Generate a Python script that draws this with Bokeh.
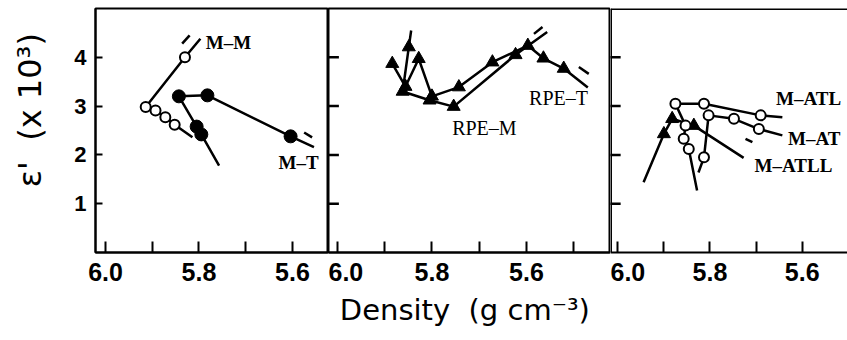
from bokeh.plotting import figure
from bokeh.layouts import row
from bokeh.models import Range1d, FixedTicker, Label, Span, PrintfTickFormatter
from bokeh.embed import file_html
from bokeh.resources import INLINE

# ---------------- data (density in g cm^-3, epsilon' x 10^3) ----------------
X_TICKS = [6.0, 5.8, 5.6]
X_MINOR = [5.9, 5.7, 5.5]
Y_TICKS = [1, 2, 3, 4]

# Panel 1: M-M (open circles), M-T (filled circles)
MM_LINE_X = [5.814, 5.852, 5.872, 5.893, 5.914, 5.830, 5.797]
MM_LINE_Y = [2.36, 2.62, 2.77, 2.91, 2.98, 4.00, 4.38]
MM_PTS_X = [5.852, 5.872, 5.893, 5.914, 5.830]
MM_PTS_Y = [2.62, 2.77, 2.91, 2.98, 4.00]

MT_LINE1_X = [5.843, 5.782, 5.604, 5.554]
MT_LINE1_Y = [3.20, 3.22, 2.38, 2.16]
MT_LINE2_X = [5.843, 5.805, 5.795, 5.757]
MT_LINE2_Y = [3.20, 2.58, 2.42, 1.78]
MT_PTS_X = [5.843, 5.782, 5.604, 5.805, 5.795]
MT_PTS_Y = [3.20, 3.22, 2.38, 2.58, 2.42]

# Panel 2: RPE-M, RPE-T (filled triangles)
RPEM_LINE_X = [5.844, 5.849, 5.862, 5.805, 5.754, 5.623, 5.556]
RPEM_LINE_Y = [4.55, 4.21, 3.30, 3.12, 2.99, 4.05, 4.52]
RPEM_PTS_X = [5.849, 5.862, 5.805, 5.754, 5.623]
RPEM_PTS_Y = [4.21, 3.30, 3.12, 2.99, 4.05]

RPET_LINE_X = [5.884, 5.856, 5.828, 5.800, 5.743, 5.672, 5.597, 5.564, 5.521, 5.470]
RPET_LINE_Y = [3.87, 3.40, 3.97, 3.20, 3.39, 3.90, 4.24, 3.98, 3.77, 3.38]
RPET_PTS_X = [5.884, 5.856, 5.828, 5.800, 5.743, 5.672, 5.597, 5.564, 5.521]
RPET_PTS_Y = [3.87, 3.40, 3.97, 3.20, 3.39, 3.90, 4.24, 3.98, 3.77]

# Panel 3: M-ATL, M-AT (open circles), M-ATLL (filled triangles)
ATL_LINE_X = [5.643, 5.690, 5.813, 5.875, 5.853, 5.857, 5.846, 5.828]
ATL_LINE_Y = [2.77, 2.81, 3.05, 3.05, 2.60, 2.33, 2.12, 1.27]
ATL_PTS_X = [5.690, 5.813, 5.875, 5.853, 5.857, 5.846]
ATL_PTS_Y = [2.81, 3.05, 3.05, 2.60, 2.33, 2.12]

AT_LINE_X = [5.643, 5.694, 5.748, 5.803, 5.813, 5.825]
AT_LINE_Y = [2.40, 2.53, 2.74, 2.81, 1.95, 1.64]
AT_PTS_X = [5.694, 5.748, 5.803, 5.813]
AT_PTS_Y = [2.53, 2.74, 2.81, 1.95]

ATLL_LINE_X = [5.727, 5.835, 5.882, 5.900, 5.944]
ATLL_LINE_Y = [1.94, 2.60, 2.74, 2.43, 1.44]
ATLL_PTS_X = [5.835, 5.882, 5.900]
ATLL_PTS_Y = [2.60, 2.74, 2.43]

# small direction arrows (x0, y0, x1, y1)
ARROWS1 = ([5.836, 5.575], [4.28, 2.46], [5.820, 5.558], [4.45, 2.36])
ARROWS2 = ([5.584, 5.489], [4.48, 3.80], [5.566, 5.468], [4.62, 3.66])
ARROWS3 = ([5.723], [2.33], [5.708], [2.26])

TICK_FONT = "Liberation Sans"
AXIS_FONT = "DejaVu Sans"
LABEL_FONT = "Liberation Serif"

H = 340
TOP = 8
BOTTOM = 88
YTICK_LEN = 0.022  # inward tick length on the inner panels, in density units


def make_panel(width, xr, left, show_yaxis, outline=True):
    p = figure(width=width, height=H, x_range=Range1d(*xr), y_range=Range1d(0, 5),
               output_backend="svg", toolbar_location=None,
               min_border_left=left, min_border_right=0,
               min_border_top=TOP, min_border_bottom=BOTTOM)
    p.grid.visible = False
    p.background_fill_color = "white"
    p.border_fill_color = "white"
    if outline:
        p.outline_line_color = "black"
        p.outline_line_width = 2
        p.outline_line_alpha = 1
    else:
        p.outline_line_color = None

    xa = p.xaxis[0]
    xa.ticker = FixedTicker(ticks=X_TICKS, minor_ticks=X_MINOR)
    xa.formatter = PrintfTickFormatter(format="%.1f")
    xa.axis_line_width = 2
    xa.major_tick_in = 11
    xa.major_tick_out = 0
    xa.minor_tick_in = 11
    xa.minor_tick_out = 0
    xa.major_tick_line_width = 2
    xa.minor_tick_line_width = 2
    xa.major_label_text_font = TICK_FONT
    xa.major_label_text_font_style = "bold"
    xa.major_label_text_font_size = "25px"
    xa.major_label_text_color = "black"
    xa.major_label_standoff = 10

    ya = p.yaxis[0]
    if show_yaxis:
        ya.ticker = FixedTicker(ticks=Y_TICKS, minor_ticks=[])
        ya.axis_line_width = 2
        ya.major_tick_in = 7
        ya.major_tick_out = 0
        ya.major_tick_line_width = 2
        ya.minor_tick_line_color = None
        ya.major_label_text_font = TICK_FONT
        ya.major_label_text_font_style = "bold"
        ya.major_label_text_font_size = "22px"
        ya.major_label_text_color = "black"
        ya.major_label_standoff = 9
    else:
        ya.visible = False
        # inward tick marks on the shared left border
        n = len(Y_TICKS)
        p.segment(x0=[xr[0] + 0.01] * n, y0=Y_TICKS, x1=[xr[0] - YTICK_LEN] * n, y1=Y_TICKS,
                  line_color="black", line_width=2.5)
    return p


def arrows(p, a):
    p.segment(x0=a[0], y0=a[1], x1=a[2], y1=a[3], line_color="black", line_width=2.5)


def label(p, x, y, text, bold=True, size="19px"):
    p.add_layout(Label(x=x, y=y, text=text, text_align="center", text_baseline="middle",
                       text_font=LABEL_FONT, text_font_style="bold" if bold else "normal",
                       text_font_size=size, text_color="black"))


# ---------------- panel 1 ----------------
X1 = (6.0214, 5.5229)
p1 = make_panel(328, X1, 95, True)
p1.yaxis.axis_label = "\u00a0\u00a0\u00a0\u00a0ε'\u00a0\u00a0(x\u00a010³)"
p1.yaxis.axis_label_text_font = AXIS_FONT
p1.yaxis.axis_label_text_font_style = "normal"
p1.yaxis.axis_label_text_font_size = "32px"
p1.yaxis.axis_label_standoff = 22
p1.yaxis.axis_label_text_color = "black"

p1.line(MM_LINE_X, MM_LINE_Y, line_color="black", line_width=2.5)
p1.scatter(MM_PTS_X, MM_PTS_Y, marker="circle", size=10, fill_color="white",
           line_color="black", line_width=2)
p1.line(MT_LINE1_X, MT_LINE1_Y, line_color="black", line_width=2.5)
p1.line(MT_LINE2_X, MT_LINE2_Y, line_color="black", line_width=2.5)
p1.scatter(MT_PTS_X, MT_PTS_Y, marker="circle", size=13, fill_color="black",
           line_color="black")
arrows(p1, ARROWS1)
label(p1, 5.737, 4.31, "M–M")
label(p1, 5.587, 1.84, "M–T")

# ---------------- panel 2 ----------------
X2 = (6.019, 5.422)
p2 = make_panel(282, X2, 0, False)
p2.xaxis.axis_label = "Density\u00a0\u00a0(g\u00a0cm⁻³)\u00a0"
p2.xaxis.axis_label_text_font = AXIS_FONT
p2.xaxis.axis_label_text_font_style = "normal"
p2.xaxis.axis_label_text_font_size = "29px"
p2.xaxis.axis_label_standoff = 9
p2.xaxis.axis_label_text_color = "black"

p2.line(RPEM_LINE_X, RPEM_LINE_Y, line_color="black", line_width=2.5)
p2.line(RPET_LINE_X, RPET_LINE_Y, line_color="black", line_width=2.5)
p2.scatter(RPEM_PTS_X, RPEM_PTS_Y, marker="triangle", size=13, fill_color="black",
           line_color="black")
p2.scatter(RPET_PTS_X, RPET_PTS_Y, marker="triangle", size=13, fill_color="black",
           line_color="black")
arrows(p2, ARROWS2)
label(p2, 5.689, 2.56, "RPE–M", bold=False, size="20px")
label(p2, 5.532, 3.16, "RPE–T", bold=False, size="20px")

# ---------------- panel 3 ----------------
X3 = (6.0158, 5.5017)
p3 = make_panel(237, X3, 0, False, outline=False)
p3.add_layout(Span(location=5, dimension="width", line_color="black", line_width=3))
p3.add_layout(Span(location=X3[0], dimension="height", line_color="black", line_width=3))

p3.line(ATL_LINE_X, ATL_LINE_Y, line_color="black", line_width=2.5)
p3.line(AT_LINE_X, AT_LINE_Y, line_color="black", line_width=2.5)
p3.line(ATLL_LINE_X, ATLL_LINE_Y, line_color="black", line_width=2.5)
p3.scatter(ATLL_PTS_X, ATLL_PTS_Y, marker="triangle", size=13, fill_color="black",
           line_color="black")
p3.scatter(ATL_PTS_X, ATL_PTS_Y, marker="circle", size=10, fill_color="white",
           line_color="black", line_width=2)
p3.scatter(AT_PTS_X, AT_PTS_Y, marker="circle", size=10, fill_color="white",
           line_color="black", line_width=2)
arrows(p3, ARROWS3)
label(p3, 5.586, 3.16, "M–ATL")
label(p3, 5.574, 2.33, "M–AT")
label(p3, 5.619, 1.78, "M–ATLL")

layout = row(p1, p2, p3, spacing=0)
open("out.html", "w").write(file_html(layout, INLINE))
